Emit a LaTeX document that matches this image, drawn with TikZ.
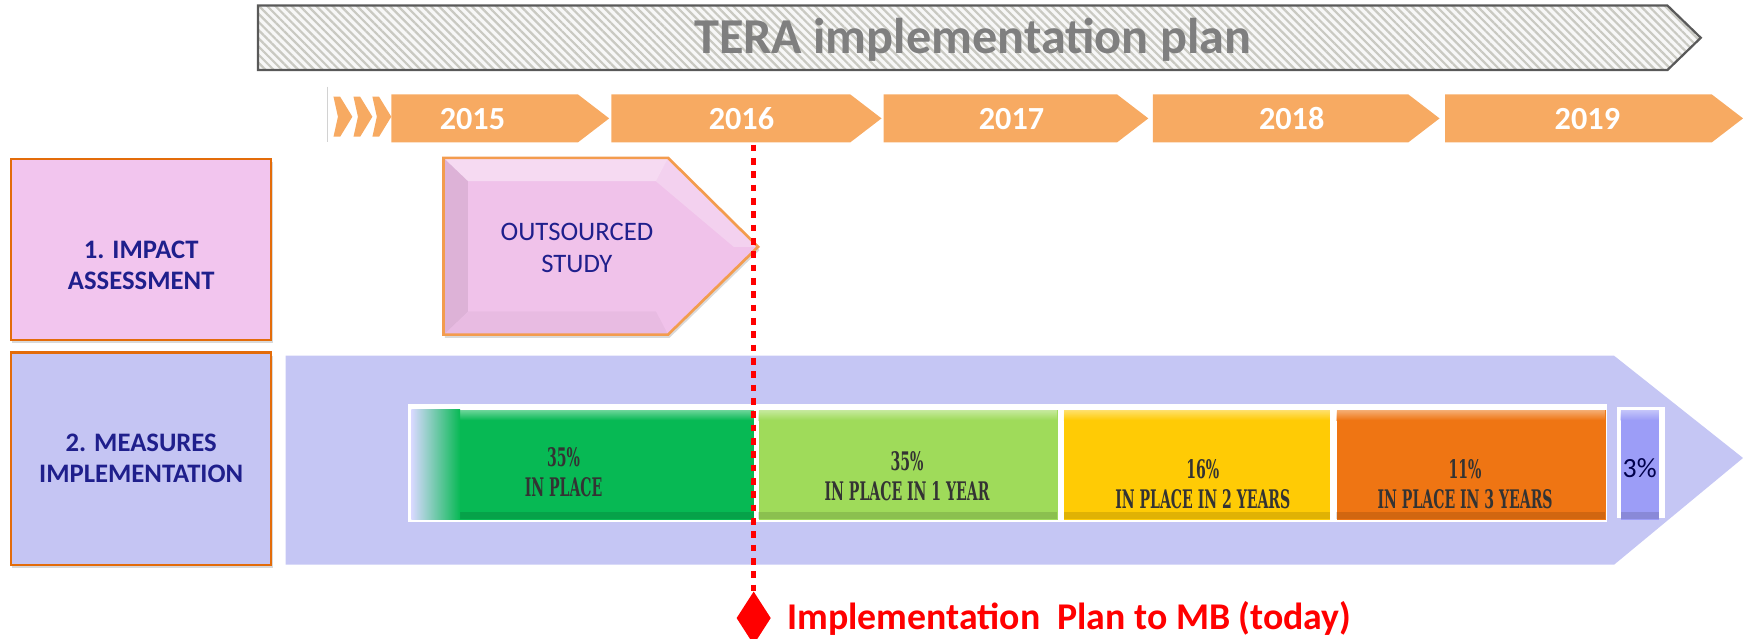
\documentclass[tikz,border=0pt]{standalone}
\usepackage{fontspec}
\setmainfont{Carlito}
\newfontfamily\barfont[FakeStretch=0.55]{DejaVu Serif}
\usetikzlibrary{shapes.geometric,patterns.meta,shadows}

\definecolor{yearorange}{HTML}{F7AA62}
\definecolor{titlegray}{HTML}{7F7F7F}
\definecolor{titleline}{HTML}{595959}
\definecolor{stripegray}{HTML}{C9C9C2}
\definecolor{pinkbox}{HTML}{F2C5EE}
\definecolor{lavbox}{HTML}{C5C5F3}
\definecolor{boxorange}{HTML}{E36C0A}
\definecolor{navy}{HTML}{1F1F8C}
\definecolor{studypink}{HTML}{F0C2EA}
\definecolor{studyline}{HTML}{F39C4E}
\definecolor{bigarrow}{HTML}{C5C6F4}
\definecolor{barA}{HTML}{07B954}
\definecolor{barB}{HTML}{9FDB5A}
\definecolor{barC}{HTML}{FFCB05}
\definecolor{barD}{HTML}{EF7513}
\definecolor{barE}{HTML}{9C9DF7}

\begin{document}
\begin{tikzpicture}[x=0.5pt,y=-0.5pt]
  \tikzset{every node/.style={inner sep=0pt, align=center}}
  \tikzset{yeartext/.style={text=white, font=\bfseries\fontsize{14.5}{16}\selectfont}}
  \tikzset{labelbox/.style={draw=boxorange, line width=1pt, minimum width=117pt,
      drop shadow={shadow xshift=0.6pt, shadow yshift=-1.5pt, opacity=0.3}}}
  \tikzset{labeltext/.style={text=navy, font=\bfseries\fontsize{12}{14}\selectfont}}
  \tikzset{bar/.style={minimum height=49.5pt, anchor=north west}}
  \tikzset{bartext/.style={font=\barfont\bfseries\fontsize{11.5}{13.5}\selectfont, text=black!80}}
  \useasboundingbox (0,0) rectangle (1568,574);

  % title banner
  \draw[titleline, line width=1pt, preaction={fill=gray!6},
        preaction={pattern={Lines[angle=-45,distance=2.6pt,line width=1pt]}, pattern color=stripegray}]
    (232,5) -- (1500,5) -- (1530,34) -- (1500,63) -- (232,63) -- cycle;
  \node[text=titlegray, font=\bfseries\fontsize{22.6}{26}\selectfont] (title) at (875,36) {TERA implementation plan};

  % years
  \draw[gray!35, line width=0.5pt] (295,78) -- (295,128);
  \foreach \cx in {300,318,335}
    \fill[yearorange] (\cx,87) -- (\cx+6,87) -- (\cx+17,105) -- (\cx+6,123) -- (\cx,123) -- (\cx+4,105) -- cycle;
  \foreach \xa/\xb/\xt/\yr in {352/520/425/2015, 550/765/667/2016, 795/1005/910/2017, 1037/1267/1162/2018, 1300/1540/1428/2019}{
    \fill[yearorange] (\xa,85) -- (\xb,85) -- (\xb+28,106.5) -- (\xb,128) -- (\xa,128) -- cycle;
    \node[yeartext] (y\yr) at (\xt,107) {\yr};
  }

  % row labels
  \node[labelbox, fill=pinkbox, minimum height=81.5pt] (impact) at (127,224.5) {};
  \node[labeltext] (impactlbl) at (127,239) {1. IMPACT\\ASSESSMENT};
  \node[labelbox, labeltext, fill=lavbox, minimum height=95.5pt] (measures) at (127,412.5) {2. MEASURES\\IMPLEMENTATION};

  % outsourced study
  \fill[studypink, drop shadow={shadow xshift=0.6pt, shadow yshift=-1.5pt, opacity=0.3}]
    (399,142) -- (601,142) -- (682,222) -- (601,301) -- (399,301) -- cycle;
  \fill[white, opacity=0.4] (399,142) -- (601,142) -- (590,163) -- (421,163) -- cycle;
  \fill[white, opacity=0.25] (601,142) -- (682,222) -- (660,222) -- (590,163) -- cycle;
  \fill[black, opacity=0.08] (399,142) -- (421,163) -- (421,280) -- (399,301) -- cycle;
  \fill[black, opacity=0.03] (399,301) -- (421,280) -- (590,280) -- (601,301) -- cycle;
  \draw[studyline, line width=1.2pt] (399,142) -- (601,142) -- (682,222) -- (601,301) -- (399,301) -- cycle;
  \node[text=navy, font=\fontsize{12}{14.25}\selectfont] (study) at (519,223) {OUTSOURCED\\STUDY};

  % measures arrow and bars
  \fill[bigarrow] (257,320) -- (1452,320) -- (1568,412) -- (1452,508) -- (257,508) -- cycle;
  \fill[white] (367,363) rectangle (1446,470);
  \fill[white] (1455,366) rectangle (1498,466);
  \foreach \xa/\xb/\col/\nm in {370/678/barA/inplace, 682/951/barB/oneyear, 957/1196/barC/twoyears, 1202/1444/barD/threeyears, 1458/1492/barE/rest}{
    \node[bar, fill=\col, minimum width={(\xb-\xa)*0.5pt}] (\nm) at (\xa,368) {};
    \shade[top color=white, bottom color=\col, opacity=0.45] (\xa,368) rectangle (\xb,378);
    \fill[black, opacity=0.12] (\xa,461) rectangle (\xb,467);
  }
  \shade[left color=blue!15!white, right color=barA] (370,368) rectangle (414,467);
  \node[bartext] (inplacelbl) at (507,425) {35\%\\IN PLACE};
  \node[bartext] (oneyearlbl) at (816,428.5) {35\%\\IN PLACE IN 1 YEAR};
  \node[bartext] (twoyearslbl) at (1082,435.5) {16\%\\IN PLACE IN 2 YEARS};
  \node[bartext] (threeyearslbl) at (1318,435.5) {11\%\\IN PLACE IN 3 YEARS};
  \node[text=black!70!blue, font=\fontsize{12.5}{14}\selectfont] (restlbl) at (1475,421) {3\%};

  % today marker
  \coordinate (today) at (678,130);
  \node[diamond, fill=red, minimum width=15.5pt, minimum height=24pt] (mb) at (678,556) {};
  \draw[red, line width=2pt, dash pattern=on 3pt off 3pt] (today) -- (mb.north);
  \node[text=red, font=\bfseries\fontsize{17}{20}\selectfont, anchor=west] (plan) at (708,556) {Implementation\ \ Plan to MB (today)};
\end{tikzpicture}
\end{document}
